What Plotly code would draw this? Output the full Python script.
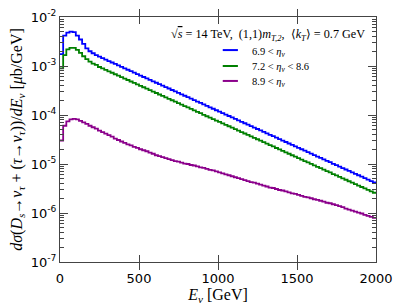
import plotly.graph_objects as go

# Bin edges (GeV): 20 GeV bins from 0 to 2000
bin_edges = list(range(0, 2001, 20))

series_names = ["6.9 &lt; <i>η<sub>ν</sub></i>",
                "7.2 &lt; <i>η<sub>ν</sub></i> &lt; 8.6",
                "8.9 &lt; <i>η<sub>ν</sub></i>"]
series_colors = ["#0000ff", "#008000", "#8b008b"]

blue_vals = [
    1.74e-3, 4.17e-3, 4.79e-3, 5.01e-3, 4.90e-3, 4.17e-3, 3.47e-3, 2.82e-3, 2.29e-3, 2.00e-3,
    1.82e-3, 1.66e-3, 1.55e-3, 1.45e-3, 1.35e-3, 1.26e-3, 1.18e-3, 1.10e-3, 1.03e-3, 9.60e-4,
    8.97e-4, 8.39e-4, 7.83e-4, 7.32e-4, 6.84e-4, 6.39e-4, 5.97e-4, 5.58e-4, 5.21e-4, 4.87e-4,
    4.55e-4, 4.25e-4, 3.97e-4, 3.71e-4, 3.47e-4, 3.24e-4, 3.03e-4, 2.83e-4, 2.64e-4, 2.47e-4,
    2.31e-4, 2.16e-4, 2.01e-4, 1.88e-4, 1.76e-4, 1.64e-4, 1.53e-4, 1.43e-4, 1.34e-4, 1.25e-4,
    1.17e-4, 1.09e-4, 1.02e-4, 9.54e-5, 8.91e-5, 8.33e-5, 7.78e-5, 7.27e-5, 6.79e-5, 6.35e-5,
    5.93e-5, 5.54e-5, 5.18e-5, 4.84e-5, 4.52e-5, 4.22e-5, 3.94e-5, 3.69e-5, 3.44e-5, 3.22e-5,
    3.01e-5, 2.81e-5, 2.62e-5, 2.45e-5, 2.29e-5, 2.14e-5, 2.00e-5, 1.87e-5, 1.75e-5, 1.63e-5,
    1.52e-5, 1.42e-5, 1.33e-5, 1.24e-5, 1.16e-5, 1.09e-5, 1.01e-5, 9.47e-6, 8.85e-6, 8.27e-6,
    7.73e-6, 7.22e-6, 6.75e-6, 6.30e-6, 5.89e-6, 5.50e-6, 5.14e-6, 4.80e-6, 4.49e-6, 4.19e-6,
]

green_vals = [
    8.91e-4, 1.66e-3, 2.19e-3, 2.34e-3, 2.34e-3, 2.14e-3, 1.86e-3, 1.58e-3, 1.38e-3, 1.23e-3,
    1.12e-3, 1.05e-3, 9.55e-4, 8.91e-4, 8.32e-4, 7.77e-4, 7.28e-4, 6.79e-4, 6.36e-4, 5.92e-4,
    5.53e-4, 5.18e-4, 4.83e-4, 4.52e-4, 4.22e-4, 3.94e-4, 3.68e-4, 3.44e-4, 3.21e-4, 3.00e-4,
    2.81e-4, 2.62e-4, 2.45e-4, 2.29e-4, 2.14e-4, 2.00e-4, 1.87e-4, 1.75e-4, 1.63e-4, 1.52e-4,
    1.43e-4, 1.33e-4, 1.24e-4, 1.16e-4, 1.09e-4, 1.01e-4, 9.44e-5, 8.82e-5, 8.27e-5, 7.71e-5,
    7.22e-5, 6.73e-5, 6.29e-5, 5.89e-5, 5.50e-5, 5.14e-5, 4.80e-5, 4.49e-5, 4.19e-5, 3.92e-5,
    3.66e-5, 3.42e-5, 3.20e-5, 2.99e-5, 2.79e-5, 2.60e-5, 2.43e-5, 2.28e-5, 2.12e-5, 1.99e-5,
    1.86e-5, 1.73e-5, 1.62e-5, 1.51e-5, 1.41e-5, 1.32e-5, 1.23e-5, 1.15e-5, 1.08e-5, 1.01e-5,
    9.38e-6, 8.76e-6, 8.21e-6, 7.65e-6, 7.16e-6, 6.73e-6, 6.23e-6, 5.84e-6, 5.46e-6, 5.10e-6,
    4.77e-6, 4.45e-6, 4.16e-6, 3.89e-6, 3.63e-6, 3.39e-6, 3.17e-6, 2.96e-6, 2.77e-6, 2.59e-6,
]

purple_vals = [
    3.02e-5, 6.03e-5, 7.41e-5, 8.13e-5, 8.32e-5, 8.13e-5, 7.59e-5, 7.08e-5, 6.61e-5, 6.03e-5,
    5.62e-5, 5.25e-5, 4.79e-5, 4.47e-5, 4.17e-5, 3.89e-5, 3.63e-5, 3.31e-5, 3.09e-5, 2.88e-5,
    2.69e-5, 2.51e-5, 2.40e-5, 2.24e-5, 2.14e-5, 2.00e-5, 1.91e-5, 1.82e-5, 1.70e-5, 1.62e-5,
    1.51e-5, 1.45e-5, 1.38e-5, 1.32e-5, 1.26e-5, 1.20e-5, 1.15e-5, 1.12e-5, 1.07e-5, 1.02e-5,
    1.00e-5, 9.55e-6, 9.33e-6, 8.91e-6, 8.51e-6, 8.32e-6, 7.94e-6, 7.59e-6, 7.41e-6, 7.08e-6,
    6.76e-6, 6.46e-6, 6.17e-6, 5.89e-6, 5.62e-6, 5.37e-6, 5.13e-6, 4.90e-6, 4.68e-6, 4.47e-6,
    4.27e-6, 4.17e-6, 3.98e-6, 3.80e-6, 3.63e-6, 3.47e-6, 3.31e-6, 3.24e-6, 3.09e-6, 2.95e-6,
    2.88e-6, 2.75e-6, 2.63e-6, 2.51e-6, 2.45e-6, 2.34e-6, 2.24e-6, 2.14e-6, 2.09e-6, 2.00e-6,
    1.91e-6, 1.86e-6, 1.78e-6, 1.70e-6, 1.62e-6, 1.58e-6, 1.51e-6, 1.45e-6, 1.38e-6, 1.32e-6,
    1.23e-6, 1.17e-6, 1.12e-6, 1.07e-6, 1.02e-6, 9.77e-7, 9.12e-7, 8.71e-7, 8.32e-7, 7.94e-7,
]

y_tickvals = [1e-7, 1e-6, 1e-5, 1e-4, 1e-3, 1e-2]
y_ticktext = ["10<sup>-7</sup>", "10<sup>-6</sup>", "10<sup>-5</sup>",
              "10<sup>-4</sup>", "10<sup>-3</sup>", "10<sup>-2</sup>"]
y_minor_tickvals = [m * d for d in [1e-7, 1e-6, 1e-5, 1e-4, 1e-3] for m in range(2, 10)]
x_tickvals = [0, 500, 1000, 1500, 2000]
x_ticktext = ["0", "500", "1000", "1500", "2000"]

SERIF = "Liberation Serif"
SANS = "DejaVu Sans"

fig = go.Figure()
for name, color, vals in zip(series_names, series_colors, [blue_vals, green_vals, purple_vals]):
    fig.add_trace(go.Scatter(
        x=bin_edges,
        y=vals + [vals[-1]],
        mode="lines",
        line=dict(color=color, width=1.8, shape="hv"),
        name=name,
        showlegend=False,
        hoverinfo="skip",
    ))

AX_COLOR = "#444444"
axis_common = dict(
    showline=True, linecolor=AX_COLOR, linewidth=1, mirror="allticks",
    ticks="inside", tickcolor=AX_COLOR, showgrid=False, zeroline=False,
    automargin=False,
)

# Hand-placed legend (short line samples, tight spacing as in the reference)
legend_x0, legend_x1, legend_tx = 0.515, 0.563, 0.60
legend_ys = [0.865, 0.800, 0.739]
shapes = []
annotations = []
for name, color, ly in zip(series_names, series_colors, legend_ys):
    shapes.append(dict(type="line", xref="paper", yref="paper",
                       x0=legend_x0, x1=legend_x1, y0=ly, y1=ly,
                       line=dict(color=color, width=2)))
    annotations.append(dict(xref="paper", yref="paper", x=legend_tx, y=ly - 0.008,
                            xanchor="left", yanchor="middle", showarrow=False,
                            text=name, font=dict(family=SERIF, size=10.5, color="black")))

annotations.append(dict(
    xref="paper", yref="paper", x=0.972, y=0.925, xanchor="right", yanchor="middle",
    showarrow=False,
    text="√<span style='text-decoration:overline'><i>s</i></span> = 14 TeV,  (1,1)<i>m<sub>T,2</sub></i>,  ⟨<i>k<sub>T</sub></i>⟩ = 0.7 GeV",
    font=dict(family=SERIF, size=12.2, color="black"),
))

fig.update_layout(
    width=399, height=307,
    margin=dict(l=60, r=23, t=17, b=45),
    paper_bgcolor="white", plot_bgcolor="white",
    showlegend=False,
    hovermode=False,
    xaxis=dict(
        **axis_common,
        range=[0, 2000],
        tickvals=x_tickvals, ticktext=x_ticktext, ticklen=7,
        ticklabelstandoff=4,
        tickfont=dict(family=SANS, size=13, color="black"),
        title=dict(text="<i>E<sub>ν</sub></i> [GeV]", standoff=1,
                   font=dict(family=SERIF, size=16, color="black")),
    ),
    yaxis=dict(
        **axis_common,
        type="log", range=[-7, -2],
        tickvals=y_tickvals, ticktext=y_ticktext, ticklen=8,
        tickfont=dict(family=SANS, size=13, color="black"),
        title=dict(
            text="<i>dσ</i>(<i>D<sub>s</sub></i>→<i>ν<sub>τ</sub></i> + (<i>τ</i>→<i>ν<sub>τ</sub></i>))/<i>dE<sub>ν</sub></i> [<i>μ</i>b/GeV]",
            standoff=4,
            font=dict(family=SERIF, size=16, color="black")),
    ),
    # overlay axis carrying only the short minor ticks (both sides)
    yaxis2=dict(
        overlaying="y", side="left", type="log", range=[-7, -2],
        tickvals=y_minor_tickvals, showticklabels=False,
        ticks="inside", ticklen=4, tickcolor=AX_COLOR,
        showline=False, mirror="ticks", showgrid=False, zeroline=False,
        automargin=False,
    ),
    shapes=shapes,
    annotations=annotations,
)

# invisible trace to activate the minor-tick overlay axis
fig.add_trace(go.Scatter(x=[None], y=[None], yaxis="y2", showlegend=False,
                         hoverinfo="skip", mode="lines"))

fig.write_html("out.html",
               config={"staticPlot": True, "displayModeBar": False},
               post_script="document.body.style.margin='0';document.body.style.padding='0';")
